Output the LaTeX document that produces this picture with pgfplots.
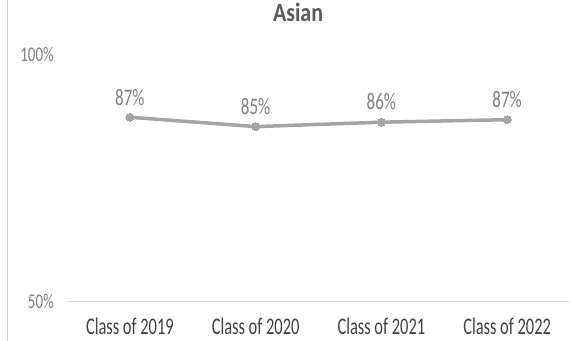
\documentclass[border=0pt]{standalone}
\usepackage{pgfplots}
\pgfplotsset{compat=1.18}
\usepackage{fontspec}
\setmainfont{Carlito}
\usepackage{graphicx}
\definecolor{linegray}{HTML}{A5A5A5}
\definecolor{basegray}{HTML}{D9D9D9}
\definecolor{bordergray}{HTML}{D0D0D0}
\definecolor{titlecol}{HTML}{595959}
\definecolor{xcol}{HTML}{404040}
\definecolor{ycol}{HTML}{7F7F7F}
\definecolor{labcol}{HTML}{7F7F7F}
\begin{document}
\begin{tikzpicture}
\draw[bordergray, line width=1bp] (7bp,0bp) -- (7bp,341bp);
\begin{axis}[
  at={(67bp,40bp)}, anchor=south west,
  scale only axis, width=503bp, height=247bp,
  xmin=-0.5, xmax=3.5, ymin=50, ymax=100,
  xtick={0,1,2,3},
  xticklabels={\scalebox{1}[1.45]{Class of 2019},\scalebox{1}[1.45]{Class of 2020},\scalebox{1}[1.45]{Class of 2021},\scalebox{1}[1.45]{Class of 2022}},
  ytick={50,100},
  yticklabels={\scalebox{1}[1.4]{50\%},\scalebox{1}[1.4]{100\%}},
  axis x line*=bottom, axis y line*=left,
  x axis line style={draw=basegray, line width=1bp, -},
  y axis line style={draw=none},
  major tick length=0pt,
  xticklabel style={font=\fontsize{16.5}{20}\selectfont, text=xcol, anchor=north, inner sep=0pt, yshift=-17bp},
  yticklabel style={font=\fontsize{15}{18}\selectfont, text=ycol, anchor=east, inner sep=0pt, xshift=-13bp},
  clip=false,
  nodes near coords={\scalebox{1}[1.4]{\pgfplotspointmeta}},
  point meta=explicit symbolic,
  every node near coord/.style={anchor=south, inner sep=0pt, yshift=12bp, text=labcol, font=\fontsize{17}{20}\selectfont},
]
\addplot[linegray, line width=3.5bp, mark=*, mark size=4bp, mark options={fill=linegray, draw=linegray, line width=0pt}]
coordinates {(0,87.2) [87\%] (1,85.3) [85\%] (2,86.2) [86\%] (3,86.7) [87\%]};
\end{axis}
\node[anchor=base, text=titlecol, font=\bfseries\fontsize{22}{26}\selectfont] at (298bp,319bp) {\scalebox{1}[1.2]{Asian}};
\pgfresetboundingbox
\path[use as bounding box] (0bp,0bp) rectangle (571bp,341bp);
\end{tikzpicture}
\end{document}
